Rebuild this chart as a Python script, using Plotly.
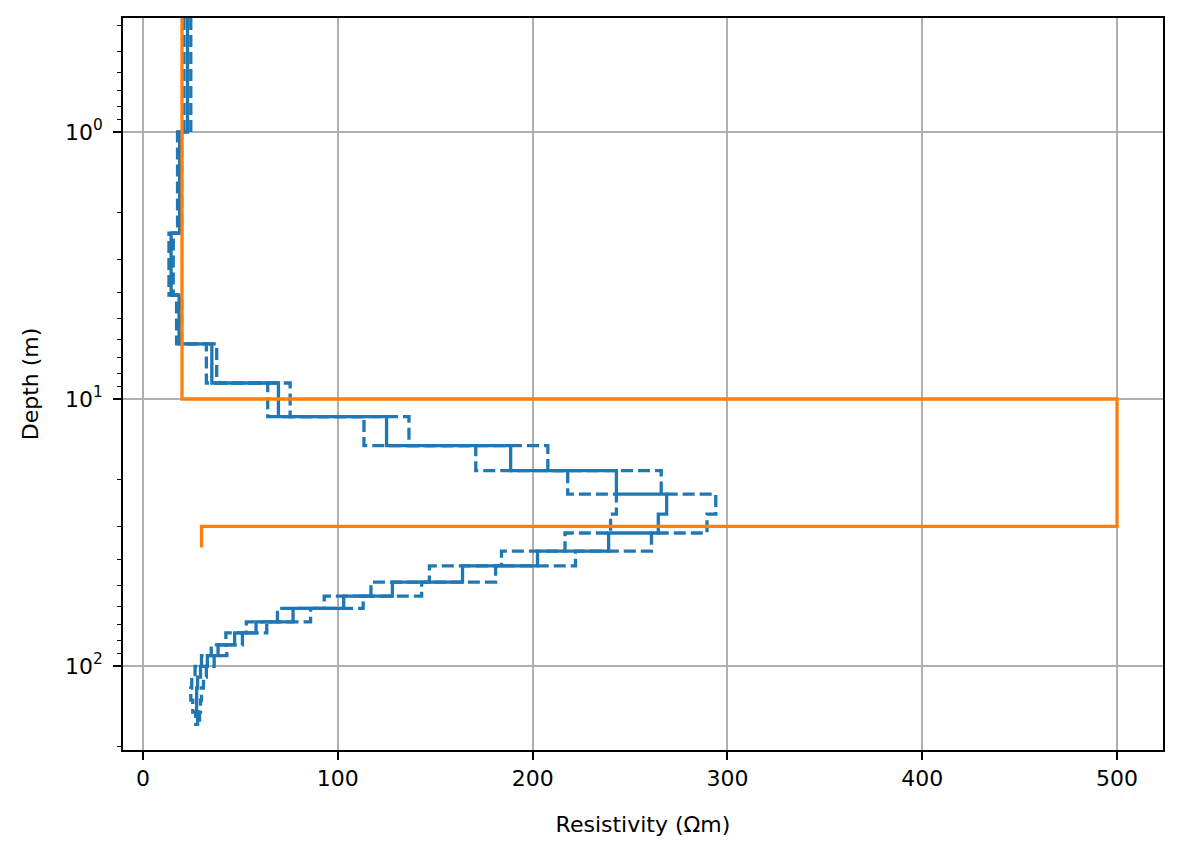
import plotly.graph_objects as go

# Layer top depths (m) of the recovered model, and bottom of last layer
layer_tops = [0.1, 1.0, 2.39, 4.08, 6.22, 8.71, 11.65, 14.96, 18.56, 22.7, 26.97,
              31.76, 37.1, 42.2, 48.5, 54.7, 60.8, 68.3, 75.2, 83.4, 91.5, 100.4,
              110.0, 120.9, 134.1, 148.7]
model_bottom = 167.8

# Recovered resistivity (solid) and lower / upper bounds (dashed), Ohm-m
rho_model = [22.8, 18.8, 14.4, 18.5, 35.3, 69.5, 125, 188.7, 243, 268.8, 264.5,
             239, 202.5, 164, 128, 103, 77, 58, 47, 38.5, 33, 29.5, 28, 27.5, 27.5, 28]
rho_lower = [21.0, 17.7, 13.3, 17.2, 32.5, 64, 113.4, 170.8, 218, 243, 240,
             216.6, 184, 147, 117, 93, 69, 53, 42.5, 35, 30, 26.7, 25, 24.5, 25.5, 27]
rho_upper = [24.5, 19.8, 15.5, 19.8, 37.8, 75.5, 136.5, 207.8, 266, 294, 289.5,
             261, 222, 181, 143, 113, 86, 63.5, 51, 43, 36.5, 32.5, 31, 30, 29.5, 29]

# True model
true_tops = [0.1, 10.0, 30.0]
true_bottom = 36.0
rho_true = [20, 500, 30]

# Axis ticks
x_ticks = [0, 100, 200, 300, 400, 500]
y_ticks = [1, 10, 100]
y_ticktext = ["10<sup>0</sup>", "10<sup>1</sup>", "10<sup>2</sup>"]
y_minor = [0.4, 0.5, 0.6, 0.7, 0.8, 0.9, 2, 3, 4, 5, 6, 7, 8, 9,
           20, 30, 40, 50, 60, 70, 80, 90, 200]

BLUE = "#1f77b4"
ORANGE = "#ff7f0e"
LW = 3.3

fig = go.Figure()

def step(vals, tops, bottom):
    return list(vals) + [vals[-1]], list(tops) + [bottom]

xs, ys = step(rho_model, layer_tops, model_bottom)
fig.add_trace(go.Scatter(x=xs, y=ys, mode="lines", line_shape="vh",
                         line=dict(color=BLUE, width=LW), showlegend=False))
for arr in (rho_lower, rho_upper):
    xs, ys = step(arr, layer_tops, model_bottom)
    fig.add_trace(go.Scatter(x=xs, y=ys, mode="lines", line_shape="vh",
                             line=dict(color=BLUE, width=LW, dash="12px,5px"),
                             showlegend=False))
xs, ys = step(rho_true, true_tops, true_bottom)
fig.add_trace(go.Scatter(x=xs, y=ys, mode="lines", line_shape="vh",
                         line=dict(color=ORANGE, width=LW), showlegend=False))

font = dict(family="DejaVu Sans", size=22, color="black")

# page body has an 8px margin: compensate so the axes box lands at x 123-1163, y 18-750
fig.update_layout(
    width=1175, height=853,
    margin=dict(l=115, r=20, t=10, b=111, autoexpand=False),
    paper_bgcolor="white", plot_bgcolor="white",
    font=font,
    xaxis=dict(
        range=[-10.3, 523.6], tickvals=x_ticks, ticks="outside", ticklen=8,
        tickwidth=1.8, tickcolor="black", showline=True, linecolor="black",
        linewidth=1.8, mirror=True, showgrid=True, gridcolor="#b0b0b0",
        gridwidth=1.8, zeroline=False, automargin=False,
        title=dict(text="Resistivity (Ωm)", font=font, standoff=26),
    ),
    yaxis=dict(
        type="log", range=[2.3146, -0.427], tickvals=y_ticks, ticktext=y_ticktext,
        ticks="outside", ticklen=8, tickwidth=1.8, tickcolor="black",
        ticklabelstandoff=6,
        showline=True, linecolor="black", linewidth=1.8, mirror=True,
        showgrid=True, gridcolor="#b0b0b0", gridwidth=1.8, zeroline=False,
        automargin=False,
        minor=dict(tickvals=y_minor, ticks="outside", ticklen=4.5, tickwidth=1.3,
                   tickcolor="black", showgrid=False),
        title=dict(text="Depth (m)", font=font, standoff=20),
    ),
)

fig.write_html("out.html")
